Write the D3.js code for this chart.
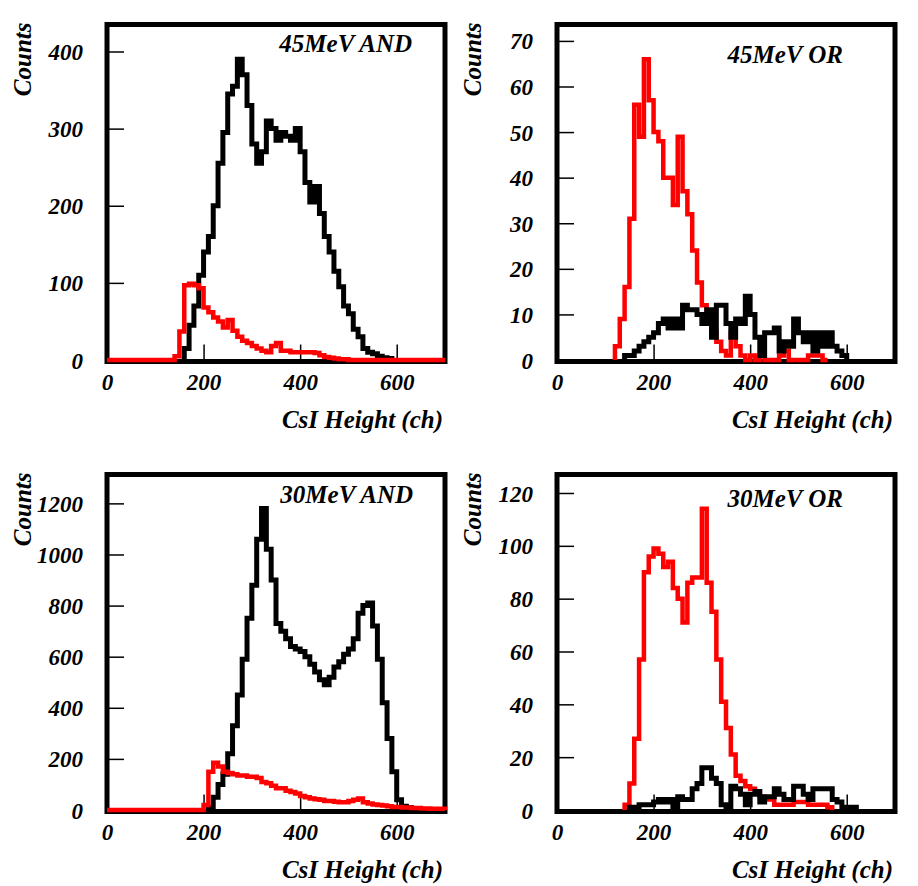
<!DOCTYPE html>
<html><head><meta charset="utf-8">
<script src="https://cdn.jsdelivr.net/npm/d3@7"></script>
<style>
body{margin:0;background:#fff}
text{font-family:"Liberation Serif","Times New Roman",serif;font-weight:bold;font-style:italic;fill:#000}
</style>
</head><body>
<svg id="c" width="918" height="886"></svg>
<script>
// ---------------- DATA ----------------
const binWidth = 10;                 // ch per bin
const xDomain = [0, 700];
const xTickValues = [0, 200, 400, 600];
const xTitle = "CsI Height (ch)";
const yTitle = "Counts";
const panelTitles = ["45MeV AND", "45MeV OR", "30MeV AND", "30MeV OR"];
const yMaxes = [435, 73.6, 1313, 127];
const yTicks45AND = [0, 100, 200, 300, 400];
const yTicks45OR = [0, 10, 20, 30, 40, 50, 60, 70];
const yTicks30AND = [0, 200, 400, 600, 800, 1000, 1200];
const yTicks30OR = [0, 20, 40, 60, 80, 100, 120];

// 45 MeV AND
const and45BlackStart = 160;
const and45Black = [15,45,70,110,140,160,200,255,295,345,355,390,370,330,280,255,270,310,300,285,
  295,290,285,300,270,230,205,225,190,160,140,115,95,70,60,40,30,15,10,8,5,3,2];
const and45RedStart = 0;
const and45Red = [0,0,0,0,0,0,0,0,0,0,0,0,0,0,
  5,37,97,99,97,93,68,62,55,50,42,52,38,30,25,22,18,15,12,10,18,22,12,12,10,10,10,10,10,9,6,4,3,2,1,1,
  0,0,0,0,0,0,0,0,0,0,0,0,0,0,0,0,0,0,0,0];
// 45 MeV OR
const or45BlackStart = 140;
const or45Black = [1,1,2,3,4,5,6,8,9,7,9,7,12,11,11,10,8,11,5,12,12,8,5,9,8,14,10,5,1,6,
  6,7,2,4,3,9,6,4,6,2,6,3,6,3,2,1];
const or45RedStart = 120;
const or45Red = [3,9,16,31,56,49,66,57,50,48,40,40,34,49,37,32,24,17,12,9,6,4,2,1,6,3,1,0,1,0,
  1,0,0,0,1,2,0,0,0,0,1,1,1,0];
// 30 MeV AND
const and30BlackStart = 210;
const and30Black = [10,50,100,140,220,330,450,590,750,880,1060,1180,1020,900,730,700,670,640,630,620,
  600,570,540,510,490,520,560,580,610,630,670,770,800,810,720,590,420,280,150,40,15,10,5];
const and30RedStart = 0;
const and30Red = [0,0,0,0,0,0,0,0,0,0,0,0,0,0,0,0,0,0,0,0,
  20,150,185,170,150,145,140,135,135,130,130,125,110,105,95,85,85,75,70,65,55,50,45,42,40,35,35,32,30,30,
  35,40,45,30,25,22,20,18,15,12,12,10,10,8,8,6,6,5,5,5];
// 30 MeV OR
const or30BlackStart = 150;
const or30Black = [1,1,2,2,2,3,4,3,4,1,5,4,4,8,10,16,16,12,10,2,1,9,8,6,2,6,7,3,5,5,
  8,6,4,4,9,9,6,4,8,8,8,8,4,3,1,1,1];
const or30RedStart = 140;
const or30Red = [2,10,27,57,90,96,99,97,92,94,84,80,71,86,88,88,114,86,75,57,41,31,21,13,11,9,8,7,5,4,
  4,2,2,2,2,3,3,3,2,2,2,2,1];

// ---------------- LAYOUT ----------------
const layout = [
  {left:107, top:24.5, yTicks:yTicks45AND, order:["black","red"], titleDx:-33, titleDy:27.5,
   black:[and45BlackStart, and45Black], red:[and45RedStart, and45Red]},
  {left:557, top:24.5, yTicks:yTicks45OR, order:["red","black"], titleDx:-52, titleDy:38.5,
   black:[or45BlackStart, or45Black], red:[or45RedStart, or45Red]},
  {left:107, top:474.5, yTicks:yTicks30AND, order:["black","red"], titleDx:-32, titleDy:28.5,
   black:[and30BlackStart, and30Black], red:[and30RedStart, and30Red]},
  {left:557, top:474.5, yTicks:yTicks30OR, order:["red","black"], titleDx:-52, titleDy:32.5,
   black:[or30BlackStart, or30Black], red:[or30RedStart, or30Red]}
];
const W = 338, H = 337;
const colors = {black:"#000000", red:"#ff0000"};
const widths = {black:5, red:4.5};

const svg = d3.select("#c");

layout.forEach((p, i) => {
  const g = svg.append("g").attr("transform", `translate(${p.left},${p.top})`);
  const x = d3.scaleLinear().domain(xDomain).range([0, W]);
  const y = d3.scaleLinear().domain([0, yMaxes[i]]).range([H - 1.5, 0]);

  // frame
  g.append("rect").attr("x",0).attr("y",0).attr("width",W).attr("height",H)
    .attr("fill","none").attr("stroke","#000").attr("stroke-width",5);

  // y axis
  const ya = g.append("g").call(d3.axisLeft(y).tickValues(p.yTicks).tickFormat(d3.format("d"))
      .tickSizeInner(-17).tickSizeOuter(0).tickPadding(24));
  ya.select(".domain").remove();
  ya.selectAll(".tick line").attr("stroke","#000").attr("stroke-width",1.5);
  ya.selectAll(".tick text").attr("font-size",23).attr("font-family",null).attr("dy","0.35em");
  ya.attr("font-family",null);

  // x axis
  const xa = g.append("g").attr("transform",`translate(0,${H})`)
    .call(d3.axisBottom(x).tickValues(xTickValues).tickFormat(d3.format("d"))
      .tickSizeInner(-17).tickSizeOuter(0).tickPadding(12));
  xa.select(".domain").remove();
  xa.selectAll(".tick line").attr("stroke","#000").attr("stroke-width",1.5);
  xa.selectAll(".tick text").attr("font-size",23);
  xa.attr("font-family",null);

  // histograms
  const line = d3.line().x(d => x(d[0])).y(d => y(d[1]));
  p.order.forEach(key => {
    const [start, vals] = p[key];
    const pts = [[start, 0]];
    vals.forEach((v, k) => {
      pts.push([start + k*binWidth, v]);
      pts.push([start + (k+1)*binWidth, v]);
    });
    pts.push([start + vals.length*binWidth, 0]);
    g.append("path").attr("d", line(pts)).attr("fill","none")
      .attr("stroke", colors[key]).attr("stroke-width", widths[key])
      .attr("stroke-linejoin","miter");
  });

  // panel title
  g.append("text").attr("x", W + p.titleDx).attr("y", p.titleDy)
    .attr("text-anchor","end").attr("font-size",25).text(panelTitles[i]);

  // axis titles
  g.append("text").attr("x", W - 2).attr("y", H + 66)
    .attr("text-anchor","end").attr("font-size",25).text(xTitle);
  g.append("text").attr("transform",`translate(-76,-2) rotate(-90)`)
    .attr("text-anchor","end").attr("font-size",25).text(yTitle);
});
</script>
</body></html>
